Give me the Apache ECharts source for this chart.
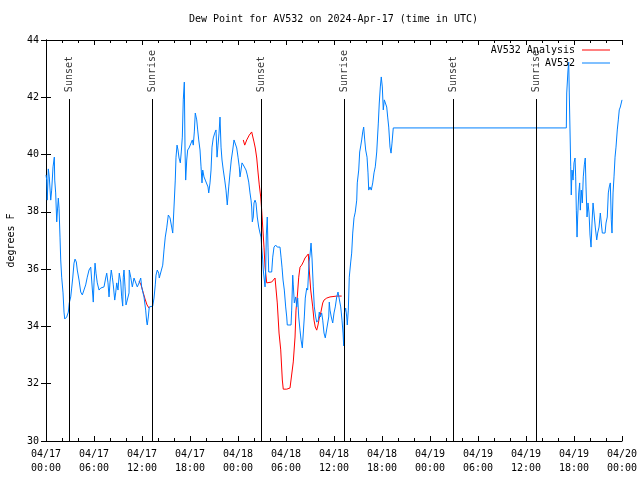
<!DOCTYPE html>
<html>
<head>
<meta charset="utf-8">
<script src="https://cdn.jsdelivr.net/npm/echarts@6/dist/echarts.min.js"></script>
<style>html,body{margin:0;padding:0;background:#fff}#chart{width:640px;height:480px}</style>
</head>
<body>
<div id="chart"></div>
<script>
// Hours after 2024-04-17 00:00 UTC, dew point in degrees F
const av532 = [
[0.00,39.29],[0.09,39.11],[0.16,38.41],[0.29,39.50],[0.41,39.22],[0.59,38.41],[0.71,38.76],[0.88,39.57],[1.04,39.91],[1.09,39.11],
[1.21,38.66],[1.34,37.65],[1.41,37.96],[1.54,38.48],[1.63,38.13],[1.75,37.12],[1.84,36.32],[1.96,35.72],[2.13,35.17],[2.25,34.50],
[2.34,34.26],[2.59,34.33],[2.79,34.50],[2.91,34.82],[3.09,35.03],[3.21,35.34],[3.34,35.69],[3.50,36.21],[3.63,36.35],[3.79,36.25],
[3.91,35.97],[4.13,35.62],[4.34,35.20],[4.54,35.10],[4.75,35.10],[4.96,35.45],[5.16,35.72],[5.38,35.97],[5.59,36.07],[5.79,36.07],
[5.91,34.85],[6.00,35.52],[6.13,36.21],[6.25,35.86],[6.41,35.52],[6.63,35.27],[6.84,35.34],[7.04,35.38],[7.25,35.38],[7.46,35.69],
[7.59,35.86],[7.75,35.52],[7.88,35.03],[8.00,35.55],[8.16,35.97],[8.29,35.72],[8.41,35.45],[8.59,34.92],[8.71,35.17],[8.84,35.52],
[9.00,35.27],[9.16,35.86],[9.34,35.55],[9.46,35.03],[9.59,34.71],[9.66,35.72],[9.75,35.97],[9.88,35.38],[10.00,34.75],[10.16,34.92],
[10.38,35.17],[10.41,35.97],[10.59,35.72],[10.79,35.38],[11.00,35.69],[11.25,35.69],[11.41,35.38],[11.63,35.52],[11.84,35.69],[11.96,35.38],
[12.13,35.17],[12.25,35.03],[12.46,34.57],[12.59,34.15],[12.66,34.05],[12.79,34.33],[12.91,34.68],[13.09,34.71],[13.34,34.71],[13.50,34.99],
[13.66,35.45],[13.75,35.79],[13.91,35.97],[14.09,35.86],[14.16,35.69],[14.41,35.69],[14.59,36.14],[14.75,36.67],[14.91,37.12],[15.09,37.44],
[15.29,37.89],[15.50,37.79],[15.71,37.47],[15.84,37.26],[16.00,38.17],[16.16,39.11],[16.25,39.91],[16.38,40.33],[16.50,40.16],[16.63,39.88],
[16.79,39.71],[16.91,40.09],[17.04,40.61],[17.16,41.91],[17.29,42.53],[17.38,40.16],[17.46,39.11],[17.59,39.81],[17.71,40.16],[17.88,40.23],
[18.00,40.26],[18.13,40.40],[18.29,40.51],[18.41,40.33],[18.54,40.79],[18.66,41.45],[18.84,41.21],[18.96,40.86],[19.09,40.51],[19.25,40.16],
[19.38,39.57],[19.50,39.01],[19.59,39.46],[19.75,39.22],[19.91,39.11],[20.09,39.11],[20.25,38.87],[20.34,38.66],[20.50,39.01],[20.63,39.46],
[20.75,40.26],[20.91,40.58],[21.09,40.75],[21.25,40.86],[21.38,39.91],[21.50,40.33],[21.63,40.75],[21.75,41.31],[21.88,40.26],[22.00,39.81],
[22.16,39.46],[22.34,39.11],[22.50,38.76],[22.66,38.24],[22.84,38.87],[23.00,39.36],[23.16,39.81],[23.34,40.16],[23.50,40.51],[23.71,40.51],
[23.84,40.23],[24.00,39.91],[24.16,39.57],[24.25,39.22],[24.38,39.46],[24.50,39.71],[24.66,39.64],[24.84,39.64],[25.00,39.46],[25.16,39.29],
[25.34,39.04],[25.50,38.66],[25.63,38.41],[25.71,38.17],[25.79,37.65],[25.91,37.82],[26.00,38.31],[26.13,38.41],[26.25,38.31],[26.41,37.82],
[26.59,37.47],[26.75,37.26],[26.88,37.12],[26.96,36.77],[27.09,36.32],[27.16,35.97],[27.29,35.62],[27.38,35.38],[27.46,35.97],[27.54,37.19],
[27.66,37.82],[27.75,36.77],[27.84,35.90],[28.00,35.90],[28.21,35.90],[28.34,36.42],[28.50,36.77],[28.71,36.84],[28.91,36.77],[29.25,36.77],
[29.38,36.42],[29.50,36.07],[29.63,35.62],[29.79,35.27],[29.96,34.68],[30.09,34.33],[30.16,34.05],[30.63,34.05],[30.71,34.57],[30.84,35.79],
[30.91,35.45],[31.04,34.82],[31.21,35.03],[31.34,34.68],[31.46,34.99],[31.59,34.33],[31.75,33.87],[31.88,33.53],[32.04,33.25],[32.16,33.77],
[32.29,34.33],[32.41,34.99],[32.59,35.34],[32.71,35.27],[32.88,36.25],[33.00,36.49],[33.13,36.91],[33.25,36.39],[33.41,35.38],[33.54,34.68],
[33.71,34.33],[33.84,34.15],[34.04,34.22],[34.16,34.50],[34.29,34.33],[34.46,34.47],[34.59,34.22],[34.75,33.77],[34.91,33.60],[35.16,33.60],
[35.34,34.33],[35.41,34.85],[35.50,34.57],[35.66,34.33],[35.84,34.12],[36.00,34.47],[36.16,34.68],[36.34,35.03],[36.50,35.20],[36.66,35.17],
[36.84,34.68],[37.00,34.22],[37.13,33.77],[37.21,33.32],[37.29,34.47],[37.46,34.64],[37.59,34.33],[37.66,34.05],[37.79,34.57],[37.91,35.72],
[38.09,36.25],[38.21,36.56],[38.34,37.26],[38.50,37.79],[38.66,37.99],[38.84,38.41],[38.91,39.01],[39.09,39.46],[39.21,40.09],[39.34,40.30],
[39.46,40.51],[39.59,40.79],[39.71,40.96],[39.84,40.51],[39.96,40.16],[40.13,39.91],[40.25,39.36],[40.34,38.76],[40.50,38.87],[40.66,38.76],
[40.84,39.01],[41.00,39.36],[41.16,39.57],[41.34,40.09],[41.54,41.10],[41.66,41.80],[41.79,42.36],[41.91,42.71],[42.04,42.36],[42.16,41.56],
[42.29,41.91],[42.41,41.91],[42.59,41.66],[42.71,41.31],[42.84,40.96],[43.00,40.26],[43.13,40.05],[43.25,40.40],[43.41,40.93],[65.04,40.93],
[65.09,42.15],[65.25,42.95],[65.34,43.23],[65.41,42.15],[65.50,42.15],[65.59,39.57],[65.66,38.59],[65.75,39.46],[65.88,39.11],[66.00,39.71],
[66.13,39.88],[66.21,39.22],[66.29,38.06],[66.38,37.12],[66.46,37.82],[66.59,38.66],[66.71,39.01],[66.79,38.06],[66.91,38.76],[67.04,38.31],
[67.16,39.22],[67.29,39.64],[67.41,39.88],[67.50,38.87],[67.63,37.82],[67.75,38.31],[67.88,37.96],[68.00,37.19],[68.13,36.77],[68.25,37.61],
[68.38,38.31],[68.50,37.96],[68.66,37.47],[68.84,37.02],[68.96,37.26],[69.13,37.47],[69.29,37.96],[69.41,37.61],[69.54,37.26],[69.71,37.26],
[69.88,37.26],[70.00,37.61],[70.16,37.82],[70.29,38.66],[70.41,38.87],[70.54,39.01],[70.66,37.72],[70.75,37.26],[70.88,38.66],[71.00,39.22],
[71.13,39.91],[71.25,40.26],[71.41,40.86],[71.54,41.21],[71.66,41.56],[71.79,41.66],[71.88,41.70],[72.00,41.91]
];
const analysisPart1 = [
[11.63,35.58],[11.88,35.45],[12.13,35.20],[12.38,34.96],[12.63,34.75],[12.88,34.64]
];
const analysisPart2 = [
[24.66,40.51],[24.84,40.33],[25.09,40.51],[25.41,40.68],[25.71,40.79],[25.84,40.82],[26.00,40.44],[26.16,40.23],[26.34,39.88],[26.50,39.39],
[26.66,38.94],[26.84,38.52],[26.96,38.06],[27.09,37.47],[27.25,36.77],[27.38,36.07],[27.59,35.52],[27.79,35.52],[28.21,35.55],[28.63,35.69],
[28.75,35.69],[28.91,34.82],[29.13,33.77],[29.34,33.18],[29.54,32.13],[29.66,31.81],[30.09,31.81],[30.50,31.85],[30.75,31.85],[30.91,32.76],
[31.13,33.63],[31.25,34.57],[31.41,35.03],[31.59,35.72],[31.75,36.07],[31.96,36.14],[32.16,36.25],[32.38,36.39],[32.59,36.42],[32.79,36.53],
[32.91,35.97],[33.09,35.27],[33.34,34.68],[33.50,34.22],[33.66,33.98],[33.84,33.87],[34.00,34.05],[34.16,34.29],[34.34,34.47],[34.59,34.82],
[34.75,34.92],[35.09,34.99],[35.50,35.03],[36.34,35.06],[36.96,35.06]
];
const sunHours = [2.92, 13.30, 26.90, 37.28, 50.88, 61.25];
const sunLabels = ['Sunset', 'Sunrise', 'Sunset', 'Sunrise', 'Sunset', 'Sunrise'];
const yTicks = [30, 32, 34, 36, 38, 40, 42, 44];

const FONT = '"DejaVu Sans Mono", "Liberation Mono", monospace';
const SUN_LINE_TOP = 41.94;
const SUN_LABEL_BASE = 42.18;

function pad(n) { return (n < 10 ? '0' : '') + n; }
function fmtHour(h) {
  const day = 17 + Math.floor(h / 24);
  const hh = Math.round(h % 24);
  return '04/' + pad(day) + '\n' + pad(hh) + ':00';
}

const chart = echarts.init(document.getElementById('chart'), null, { renderer: 'canvas' });
const axisCommon = {
  axisLine: { show: true, lineStyle: { color: '#000', width: 1 } },
  splitLine: { show: false },
  minorSplitLine: { show: false }
};
chart.setOption({
  animation: false,
  backgroundColor: '#fff',
  title: {
    text: 'Dew Point for AV532 on 2024-Apr-17 (time in UTC)',
    left: 189, top: 14, padding: 0,
    textStyle: { fontFamily: FONT, fontSize: 10, fontWeight: 'normal', color: '#000' }
  },
  legend: {
    data: ['AV532 Analysis', 'AV532'],
    orient: 'vertical', align: 'right',
    right: 30, top: 44, padding: 0,
    icon: 'rect', itemWidth: 28, itemHeight: 1, itemGap: 1,
    textStyle: { fontFamily: FONT, fontSize: 10, color: '#000', lineHeight: 12, padding: [0, 2, 0, 0] },
    inactiveColor: '#ccc'
  },
  grid: { left: 46, right: 18, top: 40, bottom: 39, outerBoundsMode: 'none', containLabel: false },
  xAxis: [
    Object.assign({}, axisCommon, {
      type: 'value', min: 0, max: 72, interval: 6, position: 'bottom',
      axisTick: { show: true, inside: true, length: 5, lineStyle: { color: '#000' } },
      minorTick: { show: true, splitNumber: 3, length: 3, lineStyle: { color: '#000' } },
      axisLabel: { show: true, margin: 6, formatter: fmtHour, fontFamily: FONT, fontSize: 10, color: '#000', lineHeight: 14 }
    }),
    Object.assign({}, axisCommon, {
      type: 'value', min: 0, max: 72, interval: 6, position: 'top',
      axisTick: { show: true, inside: true, length: 5, lineStyle: { color: '#000' } },
      minorTick: { show: true, splitNumber: 3, length: 3, lineStyle: { color: '#000' } },
      axisLabel: { show: false }
    })
  ],
  yAxis: [
    Object.assign({}, axisCommon, {
      type: 'value', min: yTicks[0], max: yTicks[yTicks.length - 1], interval: 2, position: 'left',
      name: 'degrees F', nameLocation: 'middle', nameRotate: 90, nameGap: 30,
      nameTextStyle: { fontFamily: FONT, fontSize: 10, color: '#000' },
      axisTick: { show: true, inside: true, length: 5, lineStyle: { color: '#000' } },
      axisLabel: { show: true, margin: 7, fontFamily: FONT, fontSize: 10, color: '#000' }
    }),
    Object.assign({}, axisCommon, {
      type: 'value', min: yTicks[0], max: yTicks[yTicks.length - 1], interval: 2, position: 'right',
      axisTick: { show: true, inside: true, length: 5, lineStyle: { color: '#000' } },
      axisLabel: { show: false }
    })
  ],
  series: [
    {
      name: 'sun', type: 'scatter', symbolSize: 0, silent: true,
      data: sunHours.map((h, i) => ({ value: [h, SUN_LABEL_BASE], name: sunLabels[i] })),
      label: {
        show: true, position: 'inside', rotate: 90, align: 'left', verticalAlign: 'middle',
        formatter: p => p.name, fontFamily: FONT, fontSize: 10, color: '#000'
      },
      markLine: {
        silent: true, symbol: 'none', animation: false,
        lineStyle: { color: '#000', width: 1, type: 'solid' },
        label: { show: false },
        data: sunHours.map(h => [{ coord: [h, yTicks[0]] }, { coord: [h, SUN_LINE_TOP] }])
      },
      z: 1
    },
    {
      name: 'AV532 Analysis', type: 'line', data: analysisPart1, showSymbol: false, symbol: 'none',
      lineStyle: { color: '#ff0000', width: 1 }, itemStyle: { color: '#ff0000' }, z: 2
    },
    {
      name: 'AV532 Analysis', type: 'line', data: analysisPart2, showSymbol: false, symbol: 'none',
      lineStyle: { color: '#ff0000', width: 1 }, itemStyle: { color: '#ff0000' }, z: 2
    },
    {
      name: 'AV532', type: 'line', data: av532, showSymbol: false, symbol: 'none',
      lineStyle: { color: '#0080ff', width: 1 }, itemStyle: { color: '#0080ff' }, z: 3
    }
  ]
});
</script>
</body>
</html>
